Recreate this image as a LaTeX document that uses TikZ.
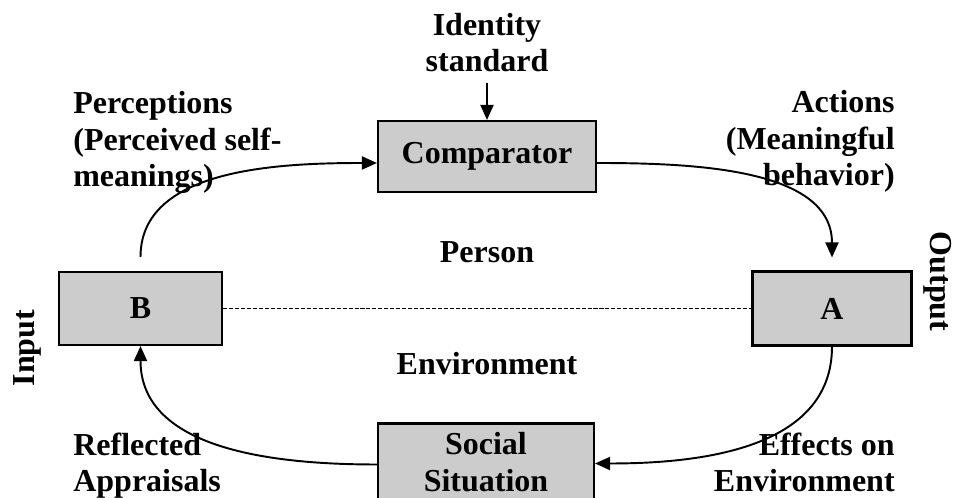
\documentclass[tikz,border=0pt]{standalone}
\usepackage{fontspec}
\setmainfont{Liberation Serif}
\usetikzlibrary{arrows.meta, positioning, calc}
\definecolor{boxgray}{RGB}{204,204,204}
\newcommand{\diagfont}{\fontsize{18.2}{21}\selectfont\bfseries}
\tikzset{
    block/.style={rectangle, draw=black, fill=boxgray, line width=1.2pt, inner sep=0pt, font=\diagfont, align=center},
    tag/.style={inner sep=0pt, font=\diagfont},
    arrow/.style={-{Triangle[length=3mm, width=2.6mm]}, line width=1.1pt},
    divider/.style={line width=0.7pt, dash pattern=on 2.3pt off 1.1pt},
}
\begin{document}
\begin{tikzpicture}
    \useasboundingbox (0,0) rectangle (19.1,9.96);
    % boxes
    \node[block, minimum width=4.36cm, minimum height=1.42cm] (comp) at (9.74,6.83) {Comparator};
    \node[block, minimum width=3.26cm, minimum height=1.46cm] (B) at (2.81,3.79) {B};
    \node[block, minimum width=3.18cm, minimum height=1.48cm] (A) at (16.64,3.79) {A};
    \node[block, minimum width=4.32cm, minimum height=1.54cm] (social) at (9.72,0.72) {Social\\Situation};
    % labels (base = last line)
    \node[tag, align=center, anchor=base, inner sep=0.2cm] (ident) at (9.74,8.52) {Identity\\standard};
    \node[tag, align=left, anchor=base west] (percep) at (1.46,6.22) {Perceptions\\(Perceived self-\\meanings)};
    \node[tag, align=right, anchor=base east] (actions) at (17.9,6.24) {Actions\\(Meaningful\\behavior)};
    \node[tag, anchor=base] (person) at (9.74,4.70) {Person};
    \node[tag, anchor=base] (envir) at (9.74,2.46) {Environment};
    \node[tag, align=left, anchor=base west] (reflect) at (1.46,0.12) {Reflected\\Appraisals};
    \node[tag, align=right, anchor=base east] (effects) at (17.9,0.12) {Effects on\\Environment};
    \node[tag, rotate=90, anchor=base] (input) at (0.68,3.0) {Input};
    \node[tag, rotate=-90, anchor=base] (output) at (18.6,4.33) {Output};
    % connectors
    \draw[divider] (B) -- (A);
    \draw[arrow] (ident) -- (comp);
    \draw[arrow, shorten <=0.28cm] (B.north) to[out=90, in=180] ([yshift=-0.13cm]comp.west);
    \draw[arrow, shorten >=0.26cm] ([yshift=-0.13cm]comp.east) to[out=0, in=90] (A.north);
    \draw[arrow] (A.south) to[out=-90, in=0] ([yshift=-0.03cm]social.east);
    \draw[arrow] ([yshift=-0.05cm]social.west) to[out=180, in=-90] (B.south);
\end{tikzpicture}
\end{document}
